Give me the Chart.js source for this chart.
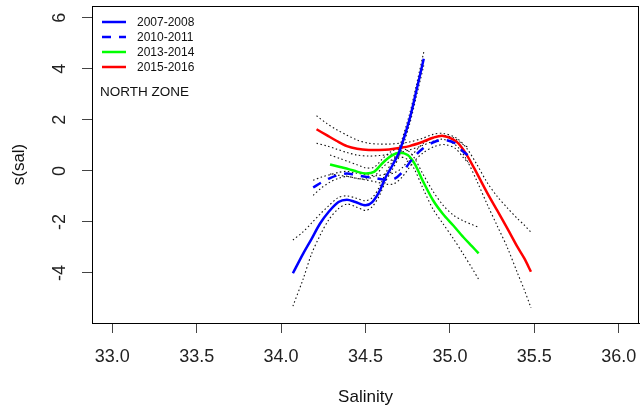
<!DOCTYPE html>
<html>
<head>
<meta charset="utf-8">
<script src="https://cdn.jsdelivr.net/npm/chart.js@4.4.0/dist/chart.umd.min.js"></script>
<style>
  html, body { margin: 0; padding: 0; background: #fff; }
  #wrap { width: 640px; height: 413px; }
</style>
</head>
<body>
<div id="wrap"><canvas id="gam" width="640" height="413"></canvas></div>
<script>
// GAM smooth of salinity, north zone

// axis ticks
const salTicks = [33.0, 33.5, 34.0, 34.5, 35.0, 35.5, 36.0];
const sTicks = [-4, -2, 0, 2, 4, 6];

// 2007-2008
const sal0708 = [34.07, 34.13, 34.18, 34.23, 34.28, 34.34, 34.39, 34.44, 34.50, 34.54, 34.58, 34.62, 34.66, 34.70, 34.76, 34.80, 34.845];
const fit0708 = [-4.01, -3.25, -2.67, -2.07, -1.62, -1.22, -1.13, -1.22, -1.35, -1.22, -0.83, -0.24, 0.22, 0.75, 2.00, 3.10, 4.39];
const up0708  = [-2.71, -2.39, -2.05, -1.70, -1.38, -1.04, -0.98, -1.06, -1.17, -1.05, -0.66, -0.08, 0.38, 0.92, 2.20, 3.32, 4.65];
const lo0708  = [-5.30, -4.25, -3.26, -2.54, -1.94, -1.48, -1.30, -1.40, -1.55, -1.40, -1.00, -0.40, 0.06, 0.58, 1.80, 2.88, 4.13];

// 2010-2011
const sal1011 = [34.19, 34.24, 34.29, 34.34, 34.39, 34.44, 34.50, 34.56, 34.62, 34.67, 34.72, 34.78, 34.84, 34.91, 34.97, 35.03, 35.08, 35.11];
const fit1011 = [-0.65, -0.45, -0.28, -0.16, -0.10, -0.16, -0.23, -0.29, -0.35, -0.32, -0.04, 0.49, 0.88, 1.14, 1.21, 1.08, 0.75, 0.60];
const up1011  = [-0.37, -0.24, -0.15, -0.06, -0.02, -0.08, -0.14, -0.19, -0.13, -0.08, 0.14, 0.65, 1.06, 1.32, 1.38, 1.27, 1.02, 0.92];
const lo1011  = [-0.96, -0.66, -0.44, -0.29, -0.22, -0.28, -0.35, -0.43, -0.52, -0.50, -0.22, 0.31, 0.70, 0.96, 1.03, 0.89, 0.52, 0.30];

// 2013-2014
const sal1314 = [34.29, 34.35, 34.40, 34.45, 34.50, 34.55, 34.60, 34.65, 34.70, 34.75, 34.79, 34.84, 34.90, 34.96, 35.02, 35.08, 35.13, 35.17];
const fit1314 = [0.25, 0.15, 0.07, -0.03, -0.10, -0.04, 0.30, 0.58, 0.71, 0.62, 0.29, -0.40, -1.15, -1.70, -2.14, -2.60, -2.95, -3.23];
const up1314  = [0.62, 0.48, 0.36, 0.24, 0.12, 0.14, 0.47, 0.75, 0.88, 0.80, 0.50, -0.12, -0.80, -1.35, -1.73, -1.96, -2.10, -2.21];
const lo1314  = [-0.12, -0.18, -0.22, -0.30, -0.32, -0.22, 0.13, 0.41, 0.55, 0.44, 0.06, -0.68, -1.50, -2.08, -2.65, -3.27, -3.80, -4.25];

// 2015-2016
const sal1516 = [34.21, 34.27, 34.33, 34.39, 34.45, 34.52, 34.58, 34.64, 34.70, 34.76, 34.84, 34.90, 34.96, 35.04, 35.10, 35.16, 35.22, 35.28, 35.34, 35.40, 35.44, 35.48];
const fit1516 = [1.63, 1.40, 1.17, 0.97, 0.87, 0.82, 0.82, 0.84, 0.90, 0.97, 1.14, 1.30, 1.37, 1.14, 0.62, -0.10, -0.85, -1.55, -2.25, -2.98, -3.42, -3.95];
const up1516  = [2.16, 1.86, 1.61, 1.40, 1.21, 1.08, 1.05, 1.05, 1.08, 1.13, 1.28, 1.43, 1.47, 1.28, 0.88, 0.25, -0.45, -1.00, -1.45, -1.87, -2.12, -2.40];
const lo1516  = [1.08, 0.98, 0.85, 0.72, 0.62, 0.58, 0.60, 0.64, 0.72, 0.82, 1.00, 1.16, 1.24, 0.98, 0.42, -0.40, -1.30, -2.15, -3.00, -4.00, -4.65, -5.36];

const periods = [
    { label: '2007-2008', xs: sal0708, fit: fit0708, up: up0708, lo: lo0708, color: '#0000ff', dash: [] },
    { label: '2010-2011', xs: sal1011, fit: fit1011, up: up1011, lo: lo1011, color: '#0000ff', dash: [9, 8] },
    { label: '2013-2014', xs: sal1314, fit: fit1314, up: up1314, lo: lo1314, color: '#00ff00', dash: [] },
    { label: '2015-2016', xs: sal1516, fit: fit1516, up: up1516, lo: lo1516, color: '#ff0000', dash: [] }
];

const FONT = 'Liberation Sans, Arial, sans-serif';

function toPoints(xs, ys) {
    return xs.map((x, i) => ({ x: x, y: ys[i] }));
}

// build datasets: fitted line plus dotted +/- 2se bands
const datasets = [];
periods.forEach(p => {
    datasets.push({
        label: p.label,
        data: toPoints(p.xs, p.fit),
        borderColor: p.color,
        borderWidth: 2.5,
        borderDash: p.dash,
        pointRadius: 0,
        tension: 0.3,
        fill: false,
        order: 1
    });
    [p.up, p.lo].forEach(band => {
        datasets.push({
            label: '',
            data: toPoints(p.xs, band),
            borderColor: '#111111',
            borderWidth: 1.1,
            borderDash: [1.5, 2.5],
            pointRadius: 0,
            tension: 0.3,
            fill: false,
            order: 2
        });
    });
});

// box round plot + legend in top-left
const frameAndKey = {
    id: 'frameAndKey',
    afterDraw(chart) {
        const ctx = chart.ctx;
        const a = chart.chartArea;
        ctx.save();
        ctx.strokeStyle = '#000';
        ctx.lineWidth = 1;
        ctx.strokeRect(a.left + 0.5, a.top + 0.5, a.right - a.left - 1, a.bottom - a.top);

        ctx.font = '12px ' + FONT;
        ctx.textBaseline = 'middle';
        ctx.fillStyle = '#111';
        periods.forEach((p, i) => {
            const y = 22 + i * 15;
            ctx.beginPath();
            ctx.strokeStyle = p.color;
            ctx.lineWidth = 2.5;
            ctx.setLineDash(p.dash);
            ctx.moveTo(102, y);
            ctx.lineTo(126, y);
            ctx.stroke();
            ctx.setLineDash([]);
            ctx.fillText(p.label, 137, y + 1);
        });
        ctx.font = '13.5px ' + FONT;
        ctx.fillText('NORTH ZONE', 100, 92);
        ctx.restore();
    }
};

new Chart(document.getElementById('gam'), {
    type: 'line',
    data: { datasets: datasets },
    options: {
        responsive: false,
        animation: false,
        devicePixelRatio: 1,
        layout: { padding: { top: 6, right: 1, left: 0, bottom: 0 } },
        plugins: {
            legend: { display: false },
            tooltip: { enabled: false }
        },
        scales: {
            x: {
                type: 'linear',
                min: 32.88,
                max: 36.12,
                afterBuildTicks: s => { s.ticks = salTicks.map(v => ({ value: v })); },
                afterFit: s => { s.height = 90; s.paddingLeft = 0; s.paddingRight = 0; },
                grid: { drawOnChartArea: false, drawTicks: true, tickLength: 10, tickColor: '#444', tickWidth: 1 },
                border: { display: true, color: '#000', width: 1 },
                ticks: {
                    autoSkip: false,
                    maxRotation: 0,
                    padding: 13,
                    color: '#222',
                    font: { family: FONT, size: 18 },
                    callback: v => Number(v).toFixed(1)
                },
                title: {
                    display: true,
                    text: 'Salinity',
                    color: '#111',
                    font: { family: FONT, size: 17 },
                    padding: { top: 0, bottom: 5 }
                }
            },
            y: {
                type: 'linear',
                min: -5.96,
                max: 6.46,
                afterBuildTicks: s => { s.ticks = sTicks.map(v => ({ value: v })); },
                afterFit: s => { s.width = 92; s.paddingTop = 0; s.paddingBottom = 0; },
                grid: { drawOnChartArea: false, drawTicks: true, tickLength: 10, tickColor: '#444', tickWidth: 1 },
                border: { display: true, color: '#000', width: 1 },
                ticks: {
                    autoSkip: false,
                    minRotation: 90,
                    maxRotation: 90,
                    crossAlign: 'center',
                    padding: 13.5,
                    color: '#222',
                    font: { family: FONT, size: 18 },
                    callback: v => String(v)
                },
                title: {
                    display: true,
                    text: 's(sal)',
                    color: '#111',
                    font: { family: FONT, size: 17 },
                    padding: { top: 9, bottom: 0 }
                }
            }
        }
    },
    plugins: [frameAndKey]
});
</script>
</body>
</html>
